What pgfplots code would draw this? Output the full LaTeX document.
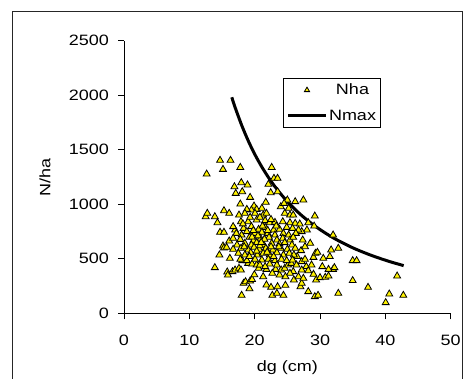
\documentclass[border=0pt]{standalone}
\usepackage{fontspec}
\setmainfont{Liberation Sans}[FakeStretch=1.2]
\usepackage{pgfplots}
\pgfplotsset{compat=1.18}
\pgfplotstableread{
d N
12.65 1277
12.5 886
12.75 917
14.7 1403
15.15 1320
16.3 1403
17.8 1338
22.6 1338
22.95 1238
23.5 1238
17.95 1198
18.9 1177
16.9 1161
17.1 1100
18.1 1115
22.1 1183
22.45 1106
23.5 1115
19.3 1063
17.8 1002
21.7 1018
26.2 1024
27.45 1039
25.0 1039
24.0 978
25.2 963
24.5 1008
13.9 886
14.3 831
15.3 941
16.1 917
14.7 743
15.3 743
15.15 617
15.3 600
14.6 535
13.9 419
16.2 504
15.8 379
15.9 351
16.6 382
17.0 397
17.6 413
17.9 397
16.1 663
17.0 764
18.3 275
18.6 290
18.0 165
19.2 226
19.3 296
19.6 310
19.95 354
21.8 260
22.5 238
22.7 165
23.5 244
23.4 183
24.4 165
24.7 257
26.0 306
27.0 244
27.2 275
28.2 199
29.2 153
29.7 165
29.4 306
30.0 327
30.8 330
31.3 342
32.8 183
32.0 403
32.2 419
31.3 403
31.5 520
31.7 581
32.8 596
32.0 718
30.5 504
30.35 428
29.0 513
29.3 550
29.6 559
29.2 892
29.1 800
28.2 831
28.0 764
27.2 749
27.35 672
27.1 575
26.5 520
35.0 483
35.6 483
35.0 300
37.35 238
40.05 98
40.6 177
41.8 342
42.75 165
28.5 642
27.7 611
28.7 443
27.9 428
28.2 391
29.0 358
27.2 397
26.7 336
27.45 321
25.9 382
25.4 367
24.7 336
23.8 351
24.05 397
23.2 403
22.7 367
21.8 403
21.3 336
20.6 413
19.0 458
18.1 483
19.6 452
20.3 443
24.6 413
25.1 443
25.6 458
26.4 443
27.2 474
27.7 495
19.9 984
20.3 953
21.1 963
19.5 947
18.8 953
17.6 901
18.5 917
20.05 917
21.3 901
21.8 917
24.6 917
25.4 901
25.9 901
17.9 840
19.0 840
20.3 856
21.6 850
22.3 831
23.1 834
24.3 840
25.4 831
26.2 825
26.9 819
16.7 795
18.3 779
19.5 795
20.6 770
21.6 788
22.9 764
23.8 770
24.9 788
25.8 779
26.7 764
17.2 733
18.0 718
18.8 749
20.05 733
21.1 743
22.0 733
23.1 718
24.4 733
25.2 718
26.3 733
16.7 688
17.8 678
19.2 697
19.8 666
20.9 688
22.2 697
23.4 672
24.3 688
25.4 672
25.9 697
17.3 627
18.5 642
19.5 627
20.3 648
21.4 627
22.6 642
23.8 636
24.6 648
25.7 627
15.7 605
16.7 587
17.9 596
19.0 581
19.9 605
20.7 587
21.7 596
22.8 581
24.0 596
25.0 587
26.2 596
17.5 550
18.5 535
19.4 556
20.4 535
21.3 550
22.3 535
23.4 556
24.4 535
25.3 550
26.0 535
17.8 495
18.8 483
20.05 495
21.1 489
22.1 495
23.1 483
24.1 495
24.9 483
25.8 489
20.8 443
22.3 452
23.4 443
21.6 428
19.6 700
20.5 710
21.5 680
22.5 610
20.8 620
21.9 560
19.2 520
22.9 520
20.3 570
21.0 650
22.0 760
19.8 760
23.7 610
18.4 610
21.2 800
23.3 800
22.5 860
20.8 880
19.3 880
18.2 820
}\nhatable
\pgfplotstableread{
d N
16.5 1981
17 1889
18 1726
19 1584
20 1460
21 1352
22 1256
23 1170
24 1094
25 1025
26 964
27 907
28 857
29 810
30 768
31 729
32 693
33 660
34 630
35 601
36 575
37 551
38 528
39 507
40 487
41 468
42 451
42.8 437
}\nmaxtable
\begin{document}
\begin{tikzpicture}[x=1pt,y=1pt]
\useasboundingbox (0,0) rectangle (463,-379);
\draw[line width=1pt, black!85] (12.3,-11.3) rectangle (462,-420);
\begin{axis}[
  at={(124pt,-313.3pt)}, anchor=south west,
  scale only axis, width=326.7pt, height=272.6pt,
  xmin=0, xmax=50, ymin=0, ymax=2500,
  axis x line*=bottom, axis y line*=left,
  axis line style={-, line width=0.9pt, black},
  tick style={line width=0.9pt, black},
  tick align=outside, major tick length=6pt,
  xtick={0,10,20,30,40,50}, xticklabels={0,10,20,30,40,50},
  ytick={0,500,1000,1500,2000,2500}, yticklabels={0,500,1000,1500,2000,2500},
  tick label style={font=\fontsize{15}{18}\selectfont},
  xticklabel style={anchor=north, inner sep=0pt, yshift=-16pt},
  yticklabel style={anchor=east, inner sep=0pt, xshift=-9pt},
  xlabel={dg (cm)}, ylabel={N/ha},
  every axis x label/.style={at={(axis description cs:0.5,-0.1996)}, anchor=center, font=\fontsize{15}{18}\selectfont},
  every axis y label/.style={at={(axis description cs:-0.2418,0.5)}, anchor=center, rotate=90, font=\fontsize{15}{18}\selectfont},
  clip=false,
  reverse legend,
  legend style={at={(0.487,0.863)}, anchor=north west, draw=black, line width=0.8pt,
    font=\fontsize{15}{18}\selectfont, inner xsep=3pt, inner ysep=4pt, row sep=10.5pt,
    nodes={inner sep=1.5pt}},
]
\addplot[black, line width=3pt, smooth,
  legend image code/.code={\draw[black, line width=3pt] (0pt,0pt) -- (38pt,0pt);}]
  table[x=d, y=N] {\nmaxtable};
\addlegendentry{Nmax}
\addplot[only marks, mark=triangle*, mark size=4pt,
  mark options={fill=yellow, draw=black, line width=0.8pt},
  legend image code/.code={\draw[mark=triangle*, mark size=3pt, mark options={fill=yellow, draw=black, line width=0.8pt}] plot coordinates {(19pt,0pt)};}]
  table[x=d, y=N] {\nhatable};
\addlegendentry{Nha}
\end{axis}
\end{tikzpicture}
\end{document}
